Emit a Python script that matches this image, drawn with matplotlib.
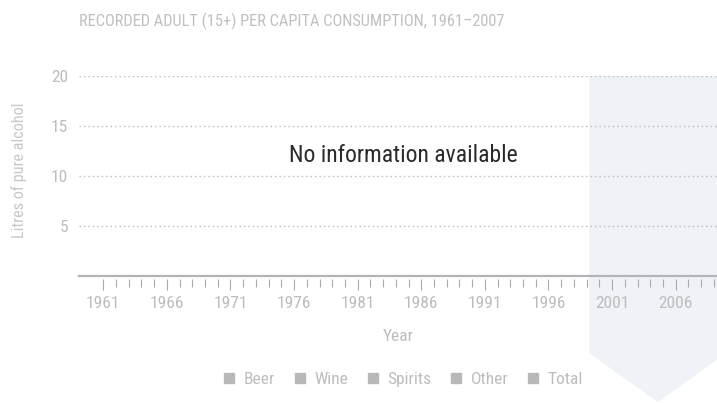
import matplotlib.pyplot as plt
from matplotlib.lines import Line2D
from matplotlib.patches import Polygon

plt.rcParams['font.family'] = ['Roboto Condensed', 'Liberation Sans Narrow', 'DejaVu Sans']
plt.rcParams['font.stretch'] = 'condensed'

# data (no values recorded for this country)
series = ['Beer', 'Wine', 'Spirits', 'Other', 'Total']
years = list(range(1961, 2010))
major_years = list(range(1961, 2010, 5))
y_ticks = [5, 10, 15, 20]

# highlighted recent period
shade_start, shade_end = 1999.2, 2010.0

grey_txt = '#bdbdbd'
fig = plt.figure(figsize=(7.17, 4.03), dpi=100)
ax = fig.add_axes([79 / 717, 127 / 403, 638 / 717, 200 / 403])
ax.set_xlim(1959.09, 2009.25)
ax.set_ylim(0, 20)

# shaded column with chevron below the axis
mid = (shade_start + shade_end) / 2
poly = Polygon([(shade_start, 20), (shade_end, 20), (shade_end, -7.7),
                (mid, -12.6), (shade_start, -7.7)],
               closed=True, facecolor='#eff3f7', edgecolor='none',
               zorder=0, clip_on=False)
ax.add_patch(poly)

for v in y_ticks:
    ax.axhline(v, color='#bbbbbb', lw=1, ls=(0, (1, 2.2)), zorder=1)
ax.axhline(0, color='#b4b4b8', lw=1.6, zorder=2, clip_on=False)

for s in ['top', 'right', 'left']:
    ax.spines[s].set_visible(False)
ax.spines['bottom'].set_position(('outward', 2.5))
ax.spines['bottom'].set_visible(False)

ax.set_xticks(major_years)
ax.set_xticks(years, minor=True)
ax.set_yticks(y_ticks)
ax.tick_params(axis='x', which='major', length=8, width=0.8, color='#aaaaaa',
               labelsize=12.5, labelcolor=grey_txt, pad=4)
ax.tick_params(axis='x', which='minor', length=5.8, width=0.8, color='#aaaaaa')
ax.tick_params(axis='y', length=0, labelsize=12.5, labelcolor=grey_txt, pad=8)

ax.set_xlabel('Year', fontsize=12.5, color=grey_txt, labelpad=13)
ax.set_ylabel('Litres of pure alcohol', fontsize=11.7, color='#c8c8c8')
ax.yaxis.set_label_coords(-0.081, 0.53)

fig.text(79 / 717, 1 - 21 / 403, 'RECORDED ADULT (15+) PER CAPITA CONSUMPTION, 1961\u20132007',
         fontsize=11.8, color='#c0c0c0', va='center', ha='left')

fig.text(403 / 717, 1 - 155 / 403, 'No information available',
         fontsize=17, color='#2a2a2a', ha='center', va='center')

handles = [Line2D([], [], ls='none', marker='s', markersize=6.5,
                  color='#b8b8b8', label=s) for s in series]
fig.legend(handles=handles, loc='center', bbox_to_anchor=(403 / 717, 1 - 379 / 403),
           ncol=5, frameon=False, fontsize=12.5, labelcolor=grey_txt,
           handlelength=0.7, handletextpad=0.5, columnspacing=1.05)

fig.savefig('out.png', dpi=100)
